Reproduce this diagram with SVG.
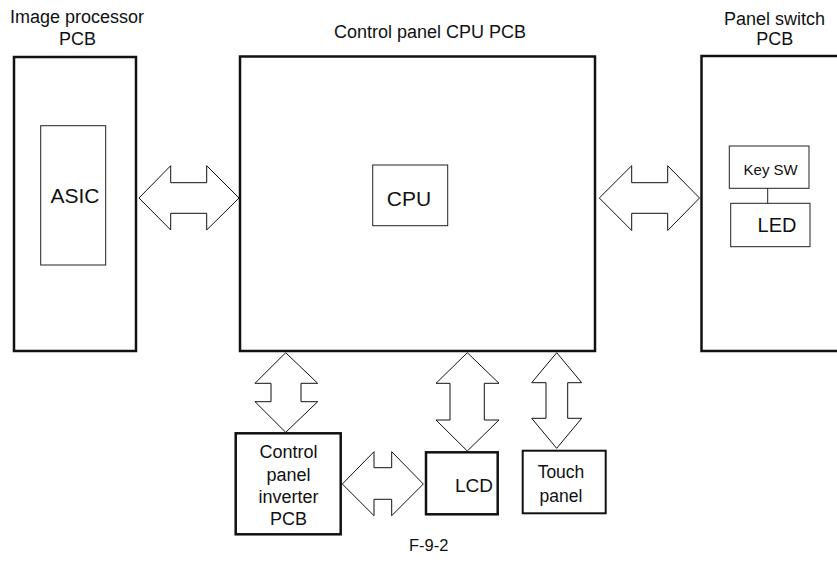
<svg xmlns="http://www.w3.org/2000/svg" width="837" height="562" viewBox="0 0 837 562">
<style>
text{font-family:"Liberation Sans",Arial,sans-serif;fill:#111;text-anchor:middle}
.thick{fill:#fff;stroke:#111;stroke-width:2.5}
.med{fill:#fff;stroke:#111;stroke-width:2}
.thin{fill:#fff;stroke:#222;stroke-width:1}
.arrow{fill:#fff;stroke:#111;stroke-width:1;stroke-linejoin:miter}
.t18{font-size:18px}
</style>
<rect width="837" height="562" fill="#fff"/>
<g id="image-processor">
<rect class="thick" x="14" y="57" width="122" height="294"/>
<text class="t18" x="77" y="23">Image processor</text>
<text class="t18" x="77.5" y="45">PCB</text>
</g>
<g id="asic">
<rect class="thin" x="40.7" y="125.7" width="65" height="139.3"/>
<text x="75" y="203" font-size="21">ASIC</text>
</g>
<g id="control-panel-cpu">
<rect class="thick" x="240" y="56.5" width="355" height="294.5"/>
<text class="t18" x="430" y="38">Control panel CPU PCB</text>
</g>
<g id="cpu">
<rect class="thin" x="372.7" y="165" width="75" height="60.7"/>
<text x="409" y="206" font-size="21">CPU</text>
</g>
<g id="panel-switch">
<rect class="thick" x="701.5" y="56" width="150" height="295"/>
<text class="t18" x="774.5" y="25">Panel switch</text>
<text class="t18" x="774.7" y="45">PCB</text>
</g>
<g id="key-sw">
<rect class="thin" x="729.3" y="146" width="79.7" height="42.3"/>
<text x="770.7" y="175" font-size="15">Key SW</text>
</g>
<g id="led">
<rect class="thin" x="730.7" y="203.3" width="79.3" height="43.4"/>
<text x="777" y="232" font-size="20">LED</text>
</g>
<g id="inverter">
<rect class="thick" x="235.7" y="433.3" width="105" height="101"/>
<text class="t18" x="288.5" y="458">Control</text>
<text class="t18" x="288.5" y="481">panel</text>
<text class="t18" x="288.5" y="503">inverter</text>
<text class="t18" x="288.5" y="525">PCB</text>
</g>
<g id="lcd">
<rect class="thick" x="426" y="452.3" width="71.7" height="62"/>
<text x="474" y="491.7" font-size="19">LCD</text>
</g>
<g id="touch-panel">
<rect class="med" x="522.7" y="450.7" width="83" height="62.6"/>
<text x="561" y="478" font-size="17.5">Touch</text>
<text x="561" y="502" font-size="17.5">panel</text>
</g>
<g id="connectors">
<polygon class="arrow" points="139,198 170.7,165.7 170.7,182.7 206.7,182.7 206.7,165.7 239,198 206.7,230 206.7,213.3 170.7,213.3 170.7,230"/>
<polygon class="arrow" points="599.3,198 631.7,165.7 631.7,182.7 667.7,182.7 667.7,165.7 699.5,198 667.7,230.5 667.7,213.3 631.7,213.3 631.7,230.5"/>
<polygon class="arrow" points="285.7,352.7 255,383.3 271,383.3 271,401.7 255,401.7 285.7,432.3 317.7,401.7 301,401.7 301,383.3 317.7,383.3"/>
<polygon class="arrow" points="467.3,352.7 436,383.3 450,383.3 450,420 436,420 467.3,451 499,420 484.3,420 484.3,383.3 499,383.3"/>
<polygon class="arrow" points="556.7,352.7 531.7,382.7 546,382.7 546,418.3 531.7,418.3 556.7,448.3 581.7,418.3 567.7,418.3 567.7,382.7 581.7,382.7"/>
<polygon class="arrow" points="342.3,484 374,451.7 374,467.7 391.7,467.7 391.7,451.7 423.3,484 391.7,515.7 391.7,499.3 374,499.3 374,515.7"/>
<line x1="767.7" y1="188.3" x2="767.7" y2="203.3" stroke="#222" stroke-width="1"/>
</g>
<text x="428.7" y="551" font-size="16.5">F-9-2</text>
</svg>
